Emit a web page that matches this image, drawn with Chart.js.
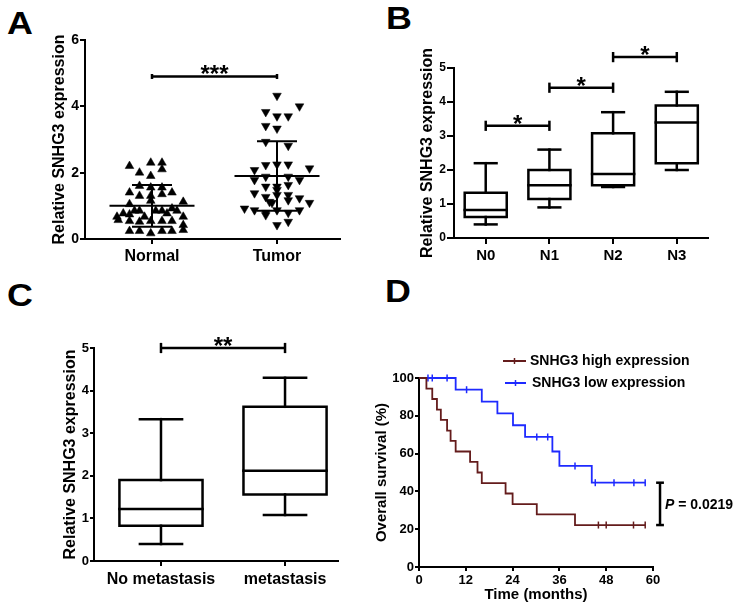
<!DOCTYPE html>
<html>
<head>
<meta charset="utf-8">
<script src="https://cdn.jsdelivr.net/npm/chart.js@4.4.1/dist/chart.umd.min.js"></script>
<style>
  body { margin: 0; background: #fff; width: 734px; height: 607px; position: relative; overflow: hidden;
         font-family: 'Liberation Sans', Arial, sans-serif; }
  canvas { position: absolute; }
  .letter { position: absolute; font-weight: bold; font-size: 32px; line-height: 1; transform: scaleX(1.12); transform-origin: left top; }
</style>
</head>
<body>
<div class="letter" style="left:7px;top:7px">A</div>
<div class="letter" style="left:386px;top:2px">B</div>
<div class="letter" style="left:7px;top:279px">C</div>
<div class="letter" style="left:385px;top:275px">D</div>

<canvas id="chartA" width="360" height="300" style="left:0;top:0"></canvas>
<canvas id="chartB" width="374" height="300" style="left:360px;top:0"></canvas>
<canvas id="chartC" width="360" height="307" style="left:0;top:300px"></canvas>
<canvas id="chartD" width="374" height="307" style="left:360px;top:300px"></canvas>

<script>
// ---------- A: scatter, Normal vs Tumor ----------
const groupsA = ['Normal', 'Tumor'];
const normalValues = [2.2, 2.3, 2.3, 2.1, 2.0, 1.9, 1.4, 1.6, 1.55, 1.55, 1.4, 1.3, 1.3, 1.35, 1.05, 1.12,
  1.15, 0.77, 0.85, 0.85, 0.92, 0.85, 0.67, 0.74, 0.85, 0.67, 0.85, 0.77, 0.67, 0.57, 0.54, 0.52,
  0.54, 0.54, 0.54, 0.42, 0.24, 0.24, 0.17, 0.24, 0.24, 0.27];
const normalJitter = [-0.18, -0.01, 0.08, 0.08, -0.10, -0.01, -0.18, -0.10, -0.01, 0.08, 0.16, -0.10, -0.01, 0.08, -0.18, 0.25,
  -0.01, -0.23, -0.10, 0.08, 0.16, 0.20, -0.28, -0.18, -0.14, -0.06, 0.03, 0.12, 0.25, -0.27, -0.18, -0.10,
  -0.01, 0.08, 0.16, 0.25, -0.18, -0.10, -0.01, 0.08, 0.16, 0.25];
const tumorValues = [4.32, 4.0, 3.83, 3.7, 3.7, 3.41, 3.33, 2.93, 2.81, 2.08, 2.23, 2.25, 2.25, 2.13, 1.78, 1.88,
  1.88, 1.78, 1.58, 1.58, 1.63, 1.38, 1.27, 1.33, 1.33, 1.23, 1.09, 1.17, 1.09, 0.92, 0.87, 0.79,
  0.87, 0.79, 0.87, 0.72, 0.42, 0.52, 1.48, 1.12];
const tumorJitter = [0, 0.18, -0.09, 0, 0.09, -0.09, 0, -0.09, 0.09, -0.18, -0.09, 0, 0.09, 0.26, -0.18, -0.09,
  0.09, 0.18, -0.09, 0, 0.09, -0.18, -0.09, 0, 0.09, 0.18, -0.04, 0.09, 0.26, -0.26, -0.18, -0.09,
  0, 0.09, 0.18, -0.09, 0, 0.09, 0, -0.06];
const meansA = [1.0, 1.9];
const sdA = [0.63, 1.05];

// ---------- B: box plots by N stage ----------
const stagesB = ['N0', 'N1', 'N2', 'N3'];
const minB = [0.4, 0.9, 1.5, 2.0];
const q1B = [0.62, 1.15, 1.55, 2.2];
const medB = [0.82, 1.55, 1.88, 3.4];
const q3B = [1.33, 2.0, 3.08, 3.9];
const maxB = [2.2, 2.6, 3.7, 4.3];
const bracketsB = [[0, 1, 3.3], [1, 2, 4.42], [2, 3, 5.32]];

// ---------- C: box plots by metastasis ----------
const groupsC = ['No metastasis', 'metastasis'];
const minC = [0.4, 1.08];
const q1C = [0.83, 1.56];
const medC = [1.22, 2.12];
const q3C = [1.9, 3.62];
const maxC = [3.33, 4.3];

// ---------- D: Kaplan-Meier ----------
const highTimes = [0, 1.9, 3.4, 4.6, 5.6, 7.2, 8.1, 9.4, 13.1, 15.0, 16.1, 22.2, 24.0, 30.2, 40.0, 58];
const highSurv = [100, 94.4, 88.9, 83.3, 77.8, 72.2, 66.7, 61.1, 55.6, 50.0, 44.4, 38.9, 33.3, 27.8, 22.2, 22.2];
const highCensorT = [46, 48, 55, 58];
const highCensorS = [22.2, 22.2, 22.2, 22.2];
const lowTimes = [0, 9.4, 16.1, 20.1, 24.1, 27.2, 34.2, 36.0, 44.3, 58];
const lowSurv = [100, 93.8, 87.5, 81.3, 75.0, 68.8, 61.1, 53.5, 44.6, 44.6];
const lowCensorT = [2.3, 3.4, 7.2, 12.2, 30.2, 33, 40, 45.2, 50, 55.1, 58];
const lowCensorS = [100, 100, 100, 93.8, 68.8, 68.8, 53.5, 44.6, 44.6, 44.6, 44.6];
const HIGH = '#641c1c';
const LOW = '#1e2aff';

Chart.defaults.font.family = "'Liberation Sans', Arial, sans-serif";
Chart.defaults.font.weight = 'bold';
Chart.defaults.color = '#000';
Chart.defaults.animation = false;
Chart.defaults.plugins.legend.display = false;
Chart.defaults.plugins.tooltip.enabled = false;

// a polyline drawn through the chart scales
const seg = (pts, extra) => Object.assign({
  data: pts.map(([x, y]) => ({x, y})),
  showLine: true, pointRadius: 0, borderColor: '#000', borderWidth: 2.5,
  borderCapStyle: 'square', fill: false, clip: false, tension: 0
}, extra || {});

function boxSets(lo, q1, med, q3, hi, hw, cw) {
  const out = [];
  lo.forEach((_, i) => {
    out.push(seg([[i - hw, q1[i]], [i + hw, q1[i]], [i + hw, q3[i]], [i - hw, q3[i]], [i - hw, q1[i]]]));
    out.push(seg([[i - hw, med[i]], [i + hw, med[i]]]));
    out.push(seg([[i, q3[i]], [i, hi[i]]]));
    out.push(seg([[i - cw, hi[i]], [i + cw, hi[i]]]));
    out.push(seg([[i, q1[i]], [i, lo[i]]]));
    out.push(seg([[i - cw, lo[i]], [i + cw, lo[i]]]));
  });
  return out;
}

function bracketSets(x1, x2, y, d) {
  return [
    seg([[x1, y], [x2, y]], {borderCapStyle: 'butt'}),
    seg([[x1, y - d], [x1, y + d]], {borderCapStyle: 'butt'}),
    seg([[x2, y - d], [x2, y + d]], {borderCapStyle: 'butt'})
  ];
}

// text / line annotations, given in data units (or canvas px with px:true)
function notes(items) {
  return {
    id: 'notes',
    afterDraw(chart) {
      const {ctx, scales: {x, y}} = chart;
      ctx.save();
      items.forEach(it => {
        if (it.type === 'line') {
          ctx.beginPath();
          it.pts.forEach(([a, b], k) => {
            const px = it.px ? a : x.getPixelForValue(a);
            const py = it.px ? b : y.getPixelForValue(b);
            k ? ctx.lineTo(px, py) : ctx.moveTo(px, py);
          });
          ctx.strokeStyle = it.color || '#000';
          ctx.lineWidth = it.width || 2;
          ctx.stroke();
          return;
        }
        let px = it.px ? it.x : x.getPixelForValue(it.x);
        const py = (it.px ? it.y : y.getPixelForValue(it.y)) + (it.dy || 0);
        ctx.fillStyle = '#000';
        ctx.textBaseline = it.baseline || 'alphabetic';
        ctx.textAlign = it.align || 'center';
        (it.parts || [{text: it.text}]).forEach(p => {
          ctx.font = (p.italic ? 'italic ' : '') + 'bold ' + it.size + "px 'Liberation Sans', Arial, sans-serif";
          ctx.fillText(p.text, px, py);
          px += ctx.measureText(p.text).width;
        });
      });
      ctx.restore();
    }
  };
}

const grid = len => ({drawOnChartArea: false, color: '#000', lineWidth: 2, tickLength: len});
const border = {color: '#000', width: 2};

function yAxis(max, step, title, size, tsize, width, len, pad) {
  return {
    min: 0, max,
    ticks: {stepSize: step, font: {size: tsize}, padding: pad},
    grid: grid(len), border,
    title: {display: true, text: title, font: {size}, padding: {top: 0, bottom: 0}},
    afterFit: s => { s.width = width; }
  };
}

function catAxis(labels, min, max, tsize, height, len, pad) {
  return {
    type: 'linear', min, max,
    afterBuildTicks: s => { s.ticks = labels.map((_, i) => ({value: i})); },
    ticks: {callback: v => labels[v], font: {size: tsize}, padding: pad, autoSkip: false, maxRotation: 0},
    grid: grid(len), border,
    afterFit: s => { s.height = height; }
  };
}

// ---------- chart A ----------
const setsA = [
  {data: normalValues.map((v, i) => ({x: normalJitter[i], y: v})), pointStyle: 'triangle', pointRadius: 5,
   backgroundColor: '#000', borderColor: '#000', borderWidth: 0.5},
  {data: tumorValues.map((v, i) => ({x: 1 + tumorJitter[i], y: v})), pointStyle: 'triangle', rotation: 180, pointRadius: 5,
   backgroundColor: '#000', borderColor: '#000', borderWidth: 0.5}
];
meansA.forEach((m, i) => {
  const s = sdA[i];
  setsA.push(seg([[i - 0.34, m], [i + 0.34, m]], {borderWidth: 2, borderCapStyle: 'butt'}));
  setsA.push(seg([[i, m - s], [i, m + s]], {borderWidth: 2, borderCapStyle: 'butt'}));
  setsA.push(seg([[i - 0.16, m + s], [i + 0.16, m + s]], {borderWidth: 2, borderCapStyle: 'butt'}));
  setsA.push(seg([[i - 0.16, m - s], [i + 0.16, m - s]], {borderWidth: 2, borderCapStyle: 'butt'}));
});
setsA.push(...bracketSets(0, 1, 4.9, 0.075));

new Chart(document.getElementById('chartA'), {
  type: 'scatter',
  data: {datasets: setsA},
  options: {
    responsive: false,
    layout: {padding: {left: 50, top: 40, right: 20, bottom: 0}},
    scales: {
      x: catAxis(groupsA, -0.536, 1.504, 16, 61, 5, 3),
      y: yAxis(6, 2, 'Relative SNHG3 expression', 16, 14, 35, 5, 1)
    }
  },
  plugins: [notes([{x: 0.5, y: 4.9, dy: 6, text: '***', size: 24}])]
});

// ---------- chart B ----------
const setsB = boxSets(minB, q1B, medB, q3B, maxB, 0.33, 0.17);
bracketsB.forEach(([a, b, y]) => setsB.push(...bracketSets(a, b, y, 0.15)));

new Chart(document.getElementById('chartB'), {
  type: 'scatter',
  data: {datasets: setsB},
  options: {
    responsive: false,
    layout: {padding: {left: 58, top: 68, right: 26, bottom: 0}},
    scales: {
      x: catAxis(stagesB, -0.498, 3.49, 15, 62, 6, 3),
      y: yAxis(5, 1, 'Relative SNHG3 expression', 16, 12, 36, 7, 1)
    }
  },
  plugins: [notes(bracketsB.map(([a, b, y]) => ({x: (a + b) / 2, y, dy: 6, text: '*', size: 24})))]
});

// ---------- chart C ----------
const setsC = boxSets(minC, q1C, medC, q3C, maxC, 0.335, 0.17);
setsC.push(...bracketSets(0, 1, 5.0, 0.12));

new Chart(document.getElementById('chartC'), {
  type: 'scatter',
  data: {datasets: setsC},
  options: {
    responsive: false,
    layout: {padding: {left: 61, top: 48, right: 22, bottom: 0}},
    scales: {
      x: catAxis(groupsC, -0.54, 1.427, 16, 46, 5, 4),
      y: yAxis(5, 1, 'Relative SNHG3 expression', 16, 13, 33, 4, 1)
    }
  },
  plugins: [notes([{x: 0.5, y: 5.0, dy: 6, text: '**', size: 24}])]
});

// ---------- chart D ----------
const km = (t, s, color) => ({
  data: t.map((v, i) => ({x: v, y: s[i]})), showLine: true, stepped: 'before',
  borderColor: color, borderWidth: 1.8, pointRadius: 0, clip: false
});
const censor = (t, s, color) => ({
  data: t.map((v, i) => ({x: v, y: s[i]})), pointStyle: 'line', rotation: 90, pointRadius: 3.5,
  borderColor: color, borderWidth: 1.5, clip: false
});

new Chart(document.getElementById('chartD'), {
  type: 'scatter',
  data: {datasets: [
    km(highTimes, highSurv, HIGH), censor(highCensorT, highCensorS, HIGH),
    km(lowTimes, lowSurv, LOW), censor(lowCensorT, lowCensorS, LOW)
  ]},
  options: {
    responsive: false,
    layout: {padding: {left: 13, top: 78, right: 81, bottom: 0}},
    scales: {
      x: {
        min: 0, max: 60,
        ticks: {stepSize: 12, font: {size: 13}, padding: 2, maxRotation: 0},
        grid: grid(4), border,
        title: {display: true, text: 'Time (months)', font: {size: 15}, padding: {top: 0, bottom: 3}},
        afterFit: s => { s.height = 40; }
      },
      y: yAxis(100, 20, 'Overall survival (%)', 15, 13, 46, 4, 1)
    }
  },
  plugins: [notes([
    {type: 'line', px: true, pts: [[143, 61], [166, 61]], color: HIGH, width: 2},
    {type: 'line', px: true, pts: [[154.5, 58], [154.5, 64]], color: HIGH, width: 1.5},
    {px: true, x: 170, y: 61, baseline: 'middle', align: 'left', text: 'SNHG3 high expression', size: 14},
    {type: 'line', px: true, pts: [[145, 83], [166, 83]], color: LOW, width: 2},
    {type: 'line', px: true, pts: [[155.5, 80], [155.5, 86]], color: LOW, width: 1.5},
    {px: true, x: 172, y: 83, baseline: 'middle', align: 'left', text: 'SNHG3 low expression', size: 14},
    {type: 'line', pts: [[61.8, 44.6], [61.8, 22.2]], width: 2.5},
    {type: 'line', pts: [[60.8, 44.6], [62.8, 44.6]], width: 2.5},
    {type: 'line', pts: [[60.8, 22.2], [62.8, 22.2]], width: 2.5},
    {px: true, x: 305, y: 205, baseline: 'middle', align: 'left', size: 14,
     parts: [{text: 'P', italic: true}, {text: ' = 0.0219'}]}
  ])]
});
</script>
</body>
</html>
